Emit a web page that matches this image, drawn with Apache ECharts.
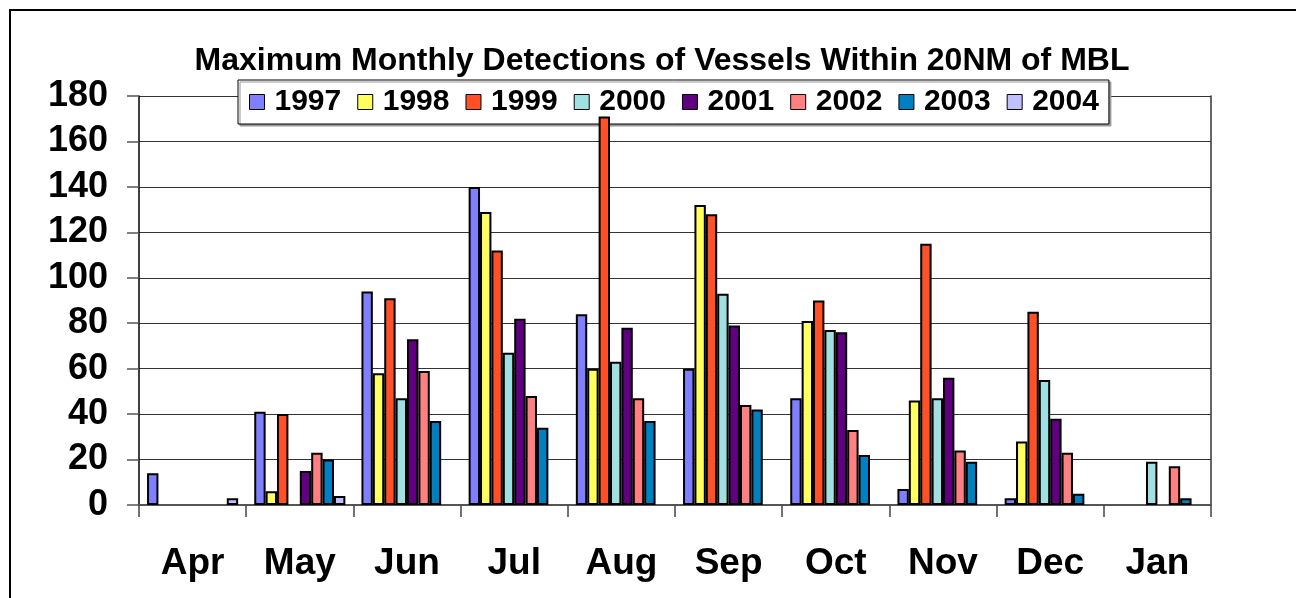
<!DOCTYPE html>
<html>
<head>
<meta charset="utf-8">
<script src="https://cdn.jsdelivr.net/npm/echarts@6/dist/echarts.min.js"></script>
<style>html,body{margin:0;padding:0;background:#fff;}#c{width:1296px;height:598px;}</style>
</head>
<body>
<div id="c"></div>
<script>
var months = ['Apr','May','Jun','Jul','Aug','Sep','Oct','Nov','Dec','Jan'];
var years = ['1997','1998','1999','2000','2001','2002','2003','2004'];
var yTicks = [0,20,40,60,80,100,120,140,160,180];
var v1997 = [14, 41, 94, 140, 84, 60, 47, 7, 3, null];
var v1998 = [null, 6, 58, 129, 60, 132, 81, 46, 28, null];
var v1999 = [null, 40, 91, 112, 171, 128, 90, 115, 85, null];
var v2000 = [null, null, 47, 67, 63, 93, 77, 47, 55, 19];
var v2001 = [null, 15, 73, 82, 78, 79, 76, 56, 38, null];
var v2002 = [null, 23, 59, 48, 47, 44, 33, 24, 23, 17];
var v2003 = [null, 20, 37, 34, 37, 42, 22, 19, 5, 3];
var v2004 = [3, 4, null, null, null, null, null, null, null, null];
var colors = ['#8080FF','#FFFF60','#FF5028','#A0E0E0','#600080','#FF8080','#0080C0','#C0C0FF'];
var seriesData = [v1997, v1998, v1999, v2000, v2001, v2002, v2003, v2004];

var chart = echarts.init(document.getElementById('c'));
var font = 'Liberation Sans, Arial, sans-serif';
chart.setOption({
  animation: false,
  backgroundColor: '#fff',
  color: colors,
  title: {
    text: 'Maximum Monthly Detections of Vessels Within 20NM of MBL',
    left: 657, top: 40, textAlign: 'center',
    textStyle: {fontFamily: font, fontWeight: 'bold', fontSize: 32, color: '#000'}
  },
  legend: {
    data: years,
    left: 238, top: 80, z: 1,
    backgroundColor: '#fff',
    borderColor: '#000', borderWidth: 1,
    shadowColor: '#999', shadowOffsetX: 2, shadowOffsetY: 2, shadowBlur: 0,
    padding: [6, 10, 6, 11],
    itemWidth: 15, itemHeight: 15, itemGap: 16,
    icon: 'rect',
    itemStyle: {borderColor: '#000', borderWidth: 1},
    textStyle: {fontFamily: font, fontWeight: 'bold', fontSize: 30, lineHeight: 32, color: '#000', padding: [0,0,0,5]}
  },
  grid: {left: 139, right: 85, top: 96, bottom: 93},
  xAxis: {
    type: 'category', data: months,
    axisLine: {lineStyle: {color: '#555', width: 2}},
    axisTick: {show: true, length: 12, lineStyle: {color: '#444', width: 1.5}},
    axisLabel: {fontFamily: font, fontWeight: 'bold', fontSize: 37, color: '#000', margin: 40}
  },
  yAxis: [{
    type: 'value', min: 0, max: 180, interval: 20,
    axisLine: {show: true, lineStyle: {color: '#000', width: 1.5}},
    axisTick: {show: true, length: 12, lineStyle: {color: '#555', width: 1.5}},
    splitLine: {show: true, lineStyle: {color: '#333', width: 1.2}},
    axisLabel: {fontFamily: font, fontWeight: 'bold', fontSize: 36, color: '#000', margin: 31,
      formatter: function (v) { return yTicks.indexOf(v) >= 0 ? String(v) : ''; }}
  }, {
    type: 'value', min: 0, max: 180, interval: 20, position: 'right',
    axisLine: {show: true, lineStyle: {color: '#333', width: 1.5}},
    axisTick: {show: false}, axisLabel: {show: false}, splitLine: {show: false}
  }],
  graphic: [{
    type: 'rect', shape: {x: 10, y: 10, width: 1400, height: 700},
    style: {fill: 'none', stroke: '#000', lineWidth: 2}, silent: true
  }],
  series: years.map(function (y, i) {
    return {
      name: y, type: 'bar', data: seriesData[i], z: 3,
      barGap: '0%', barCategoryGap: '15%',
      itemStyle: {color: colors[i], borderColor: '#000', borderWidth: 2}
    };
  })
});
</script>
</body>
</html>
